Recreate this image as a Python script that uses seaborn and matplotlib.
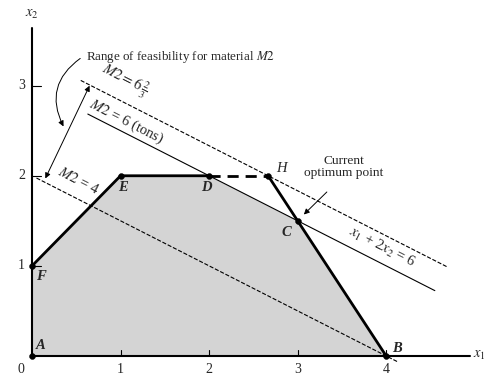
import numpy as np
import pandas as pd
import matplotlib
matplotlib.use("Agg")
import matplotlib.pyplot as plt
import seaborn as sns

# ---- data ----
vertex_names = ["A", "B", "C", "D", "E", "F"]
vertex_x = [0, 4, 3, 2, 1, 0]
vertex_y = [0, 0, 1.5, 2, 2, 1]
point_h = (8 / 3, 2)
m2_levels = [4, 6, 20 / 3]          # x1 + 2 x2 = M2
m2_ranges = [(0.05, 4.14), (0.63, 4.55), (0.55, 4.69)]
x_ticks = [1, 2, 3, 4]
y_ticks = [1, 2, 3]
x_max, y_max = 4.95, 3.64

sns.set_theme(style="white")
plt.rcParams["font.family"] = ["Liberation Serif", "DejaVu Serif"]
plt.rcParams["mathtext.fontset"] = "stix"

fig = plt.figure(figsize=(4.87, 3.77), dpi=100)
ax = fig.add_axes([20 / 487, 1 - 370 / 377, 460 / 487, 360 / 377])
ax.set_xlim(-0.136, 5.06)
ax.set_ylim(-0.156, 3.84)

# feasible region
ax.fill(vertex_x, vertex_y, color="#d4d4d4", zorder=1, lw=0)

# M2 lines
styles = ["--", "-", "--"]
for lvl, (a, b), ls in zip(m2_levels, m2_ranges, styles):
    xs = np.array([a, b])
    df = pd.DataFrame({"x": xs, "y": (lvl - xs) / 2})
    sns.lineplot(data=df, x="x", y="y", ax=ax, color="black", lw=0.8,
                 linestyle=ls, zorder=3, sort=False)

# thick boundary edges
edges = pd.DataFrame({"x": [vertex_x[5], vertex_x[4], vertex_x[3]],
                      "y": [vertex_y[5], vertex_y[4], vertex_y[3]]})
sns.lineplot(data=edges, x="x", y="y", ax=ax, color="black", lw=2, sort=False, zorder=4)
edge2 = pd.DataFrame({"x": [point_h[0], vertex_x[1]], "y": [point_h[1], vertex_y[1]]})
sns.lineplot(data=edge2, x="x", y="y", ax=ax, color="black", lw=2, sort=False, zorder=4)
ax.plot([vertex_x[3], point_h[0]], [vertex_y[3], point_h[1]], color="black", lw=2,
        linestyle=(0, (4, 2.5)), zorder=4)

# axes
ax.plot([0, 0], [0, y_max], color="black", lw=1.5, zorder=5)
ax.plot([0, x_max], [0, 0], color="black", lw=1.5, zorder=5)
for t in x_ticks:
    ax.plot([t, t], [0, 0.07], color="black", lw=0.8, zorder=5)
    ax.text(t, -0.08, str(t), ha="center", va="top", fontsize=10)
for t in y_ticks:
    ax.plot([0, 0.1], [t, t], color="black", lw=0.8, zorder=5)
    ax.text(-0.08, t, str(t), ha="right", va="center", fontsize=10)
ax.text(-0.13, -0.08, "0", ha="center", va="top", fontsize=10)
ax.text(0.0, 3.72, "$x_2$", ha="center", va="bottom", fontsize=10.5)
ax.text(4.98, 0.0, "$x_1$", ha="left", va="center", fontsize=10.5)

# vertices
pts = pd.DataFrame({"x": vertex_x + [point_h[0]], "y": vertex_y + [point_h[1]]})
sns.scatterplot(data=pts, x="x", y="y", ax=ax, color="black", s=18, zorder=6,
                edgecolor="black", clip_on=False)

lab_off = {"A": (0.1, 0.12), "B": (0.12, 0.08), "C": (-0.13, -0.13), "D": (-0.03, -0.13),
           "E": (0.03, -0.13), "F": (0.1, -0.12)}
for n, x, y in zip(vertex_names, vertex_x, vertex_y):
    dx, dy = lab_off[n]
    ax.text(x + dx, y + dy, n, ha="center", va="center", fontsize=10.5,
            style="italic", fontweight="bold")
ax.text(point_h[0] + 0.15, point_h[1] + 0.08, "H", ha="center", va="center",
        fontsize=10.5, style="italic")

# line labels
ang = -27
ax.text(1.04, 3.06, r"$M2 = 6\,\frac{2}{3}$", rotation=ang, ha="center", va="center",
        fontsize=10.5, rotation_mode="anchor")
ax.text(1.07, 2.6, "$M2$ = 6 (tons)", rotation=ang, ha="center", va="center",
        fontsize=10.5, rotation_mode="anchor")
ax.text(0.52, 1.95, "$M2$ = 4", rotation=ang, ha="center", va="center",
        fontsize=10.5, rotation_mode="anchor")
ax.text(3.95, 1.21, "$x_1$ + 2$x_2$ = 6", rotation=ang, ha="center", va="center",
        fontsize=10.5, rotation_mode="anchor")

ax.text(0.61, 3.32, "Range of feasibility for material $M2$", ha="left", va="center",
        fontsize=9.4)
ax.annotate("", xy=(0.37, 2.52), xytext=(0.57, 3.32),
            arrowprops=dict(arrowstyle="-|>", color="black", lw=0.7,
                            connectionstyle="arc3,rad=0.45", mutation_scale=8))
ax.annotate("", xy=(0.15, 1.97), xytext=(0.65, 3.0),
            arrowprops=dict(arrowstyle="<|-|>", color="black", lw=0.7, mutation_scale=8,
                            shrinkA=0, shrinkB=0))

ax.text(3.52, 2.1, "Current\noptimum point", ha="center", va="center", fontsize=9.6,
        linespacing=1.0)
ax.annotate("", xy=(3.07, 1.57), xytext=(3.33, 1.82),
            arrowprops=dict(arrowstyle="-|>", color="black", lw=0.7, mutation_scale=8,
                            shrinkA=0, shrinkB=0))

ax.set_xlabel("")
ax.set_ylabel("")
ax.set_xticks([])
ax.set_yticks([])
for s in ax.spines.values():
    s.set_visible(False)
ax.patch.set_alpha(0)

fig.savefig("out.png", dpi=100)
